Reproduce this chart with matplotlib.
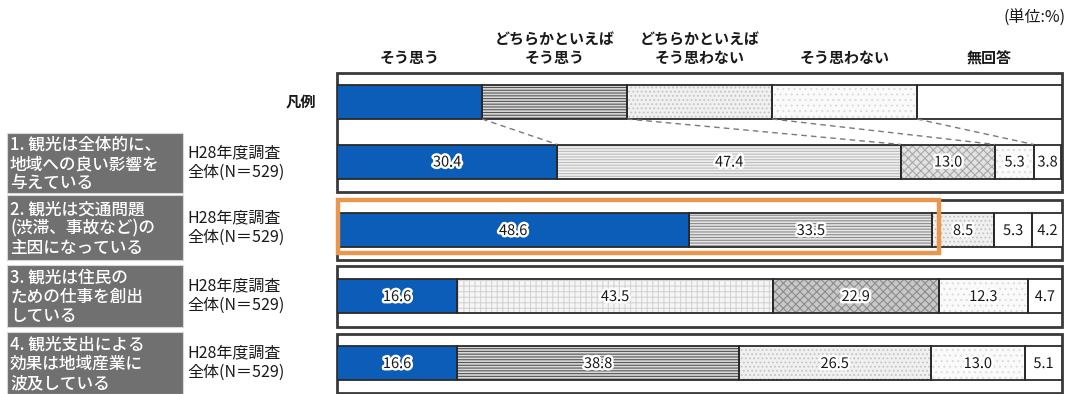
import matplotlib
matplotlib.use('Agg')
import matplotlib.pyplot as plt
from matplotlib.patches import Rectangle
import matplotlib.patheffects as pe
import numpy as np

plt.rcParams['font.family'] = ['Noto Sans CJK JP', 'DejaVu Sans']
plt.rcParams['hatch.linewidth'] = 0.8

# ---- data -------------------------------------------------------------
categories = ['そう思う', 'どちらかといえば\nそう思う', 'どちらかといえば\nそう思わない',
              'そう思わない', '無回答']
legend_share = [20, 20, 20, 20, 20]

items = ['1. 観光は全体的に、\n地域への良い影響を\n与えている',
         '2. 観光は交通問題\n(渋滞、事故など)の\n主因になっている',
         '3. 観光は住民の\nための仕事を創出\nしている',
         '4. 観光支出による\n効果は地域産業に\n波及している']
survey = 'H28年度調査\n全体(N＝529)'

q1 = [30.4, 47.4, 13.0, 5.3, 3.8]
q2 = [48.6, 33.5, 8.5, 5.3, 4.2]
q3 = [16.6, 43.5, 22.9, 12.3, 4.7]
q4 = [16.6, 38.8, 26.5, 13.0, 5.1]
rows = [q1, q2, q3, q4]

# ---- fill styles ------------------------------------------------------
fills = {
    'blue':        dict(fc='#0B5DB7', hatch=None, hc='#0B5DB7'),
    'lines_dark':  dict(fc='#DADADA', hatch='------', hc='#555555'),
    'lines_mid':   dict(fc='#E6E6E6', hatch='------', hc='#8A8A8A'),
    'lines_light': dict(fc='#F0F0F0', hatch='------', hc='#BDBDBD'),
    'xdots_dark':  dict(fc='#C8C8C8', hatch='xxxx', hc='#8C8C8C'),
    'xdots_mid':   dict(fc='#E2E2E2', hatch='xxxx', hc='#A8A8A8'),
    'dots_light':  dict(fc='#F0F0F0', hatch='....', hc='#C4C4C4'),
    'grid_light':  dict(fc='#F6F6F6', hatch='+++', hc='#D4D4D4'),
    'faint':       dict(fc='#FAFAFA', hatch='...', hc='#DDDDDD'),
    'white':       dict(fc='#FFFFFF', hatch=None, hc='#FFFFFF'),
}
legend_fill = ['blue', 'lines_dark', 'dots_light', 'faint', 'white']
row_fill = [
    ['blue', 'lines_light', 'xdots_mid', 'faint', 'white'],
    ['blue', 'lines_mid', 'dots_light', 'white', 'white'],
    ['blue', 'grid_light', 'xdots_dark', 'faint', 'white'],
    ['blue', 'lines_dark', 'dots_light', 'faint', 'white'],
]

W, H = 1072, 394
fig = plt.figure(figsize=(W / 100, H / 100), dpi=100)
fig.patch.set_facecolor('white')

# page axes in pixel units for the side labels
page = fig.add_axes([0, 0, 1, 1])
page.set_xlim(0, W)
page.set_ylim(H, 0)
page.axis('off')

# bar axes: x in percent, y in pixel rows
ax = fig.add_axes([337 / W, 0, 725 / W, 1])
ax.set_xlim(0, 100)
ax.set_ylim(H, 0)
ax.axis('off')

bar_h = 34
legend_y = 102
row_y = [161.5, 230, 296, 363]
frames = [(73, 192), (200, 260), (266, 327), (334, 393)]


def draw_bar(vals, y, styles):
    lefts = np.concatenate([[0], np.cumsum(vals)[:-1]])
    for v, l, s in zip(vals, lefts, styles):
        f = fills[s]
        ax.barh(y, v, left=l, height=bar_h, color=f['fc'], hatch=f['hatch'],
                edgecolor=f['hc'], linewidth=0, zorder=2)
        ax.barh(y, v, left=l, height=bar_h, fill=False,
                edgecolor='#2A2A2A', linewidth=1.3, zorder=3)
    return lefts


# outer frames
for top, bot in frames:
    ax.add_patch(Rectangle((0, top), 100, bot - top, fill=False,
                           edgecolor='#3A3A3A', linewidth=2.0, zorder=1,
                           clip_on=False))

# legend bar and headers
leg_left = draw_bar(legend_share, legend_y, legend_fill)
for name, l, w in zip(categories, leg_left, legend_share):
    ax.text(l + w / 2, 66, name, ha='center', va='bottom', fontsize=10.8,
            fontweight='bold', linespacing=1.2, color='#1A1A1A')
fig.text(1066 / W, 1 - 18 / H, '(単位:%)', ha='right', va='center',
         fontsize=11.5, color='#1A1A1A')
page.text(316, legend_y, '凡例', ha='right', va='center', fontsize=11,
          fontweight='bold', color='#1A1A1A')

# data rows
halo = [pe.withStroke(linewidth=3.5, foreground='white')]
for vals, y, styles in zip(rows, row_y, row_fill):
    lefts = draw_bar(vals, y, styles)
    for v, l in zip(vals, lefts):
        ax.text(l + v / 2, y + 1, f'{v:.1f}', ha='center', va='center',
                fontsize=10.5, color='#1A1A1A', path_effects=halo, zorder=5)

# dashed connectors from legend to first row
leg_edges = np.cumsum(legend_share)[:-1]
row_edges = np.cumsum(q1)[:-1]
for a, b in zip(leg_edges, row_edges):
    ax.plot([a, b], [legend_y + bar_h / 2, row_y[0] - bar_h / 2],
            linestyle=(0, (4, 3)), color='#7A7A7A', linewidth=1, zorder=4)

# highlight around the second row
hl_right = q2[0] + q2[1] + 0.8
ax.add_patch(Rectangle((0.1, 200), hl_right, 53, fill=False,
                       edgecolor='#E9964F', linewidth=3.2, zorder=6,
                       clip_on=False))

# left-side item labels
label_boxes = [(133, 193), (195, 260), (265, 327), (332, 394)]
for text, (top, bot), y in zip(items, label_boxes, row_y):
    page.add_patch(Rectangle((7, top), 176, bot - top, facecolor='#707070',
                             edgecolor='#D8D8D8', linewidth=0.8))
    page.text(10, (top + bot) / 2 + 1, text, ha='left', va='center',
              fontsize=12, fontweight='medium', color='white',
              linespacing=1.08)
    page.text(187, (top + bot) / 2, survey, ha='left', va='center',
              fontsize=11.5, color='#1A1A1A', linespacing=1.2)

fig.savefig('out.png', dpi=100, facecolor='white')
